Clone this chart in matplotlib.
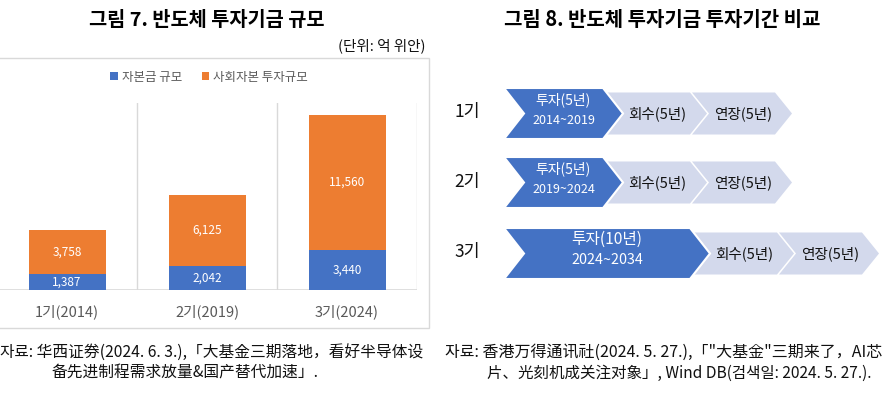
import matplotlib
matplotlib.use('Agg')
import matplotlib.pyplot as plt
from matplotlib.patches import Polygon, Rectangle

plt.rcParams['font.family'] = ['Noto Sans CJK KR', 'DejaVu Sans']

# ---- data: figure 7 (stacked bars) ----
categories = ['1기(2014)', '2기(2019)', '3기(2024)']
capital = [1387, 2042, 3440]
social = [3758, 6125, 11560]
series_names = ['자본금 규모', '사회자본 투자규모']

# ---- data: figure 8 (chevron timeline) ----
phases = ['1기', '2기', '3기']
invest_labels = ['투자(5년)', '투자(5년)', '투자(10년)']
invest_periods = ['2014~2019', '2019~2024', '2024~2034']
invest_years = [5, 5, 10]
recover_labels = ['회수(5년)', '회수(5년)', '회수(5년)']
extend_labels = ['연장(5년)', '연장(5년)', '연장(5년)']

title7 = '그림 7. 반도체 투자기금 규모'
title8 = '그림 8. 반도체 투자기금 투자기간 비교'
unit_text = '(단위: 억 위안)'
src7 = ['자료: 华西证券(2024. 6. 3.),「大基金三期落地，看好半导体设',
        '备先进制程需求放量&国产替代加速」.']
src8 = ['자료: 香港万得通讯社(2024. 5. 27.),「"大基金"三期来了，AI芯',
        '片、光刻机成关注对象」, Wind DB(검색일: 2024. 5. 27.).']

BLUE = '#4472C4'
ORANGE = '#ED7D31'
LIGHT = '#D3D9EC'
GRID = '#D9D9D9'

W, H = 885, 395
fig = plt.figure(figsize=(W / 100, H / 100), dpi=100)


def fx(px):
    return px / W


def fy(py):
    return 1 - py / H


# overlay axes in pixel coordinates
ov = fig.add_axes([0, 0, 1, 1], zorder=0)
ov.set_xlim(0, W)
ov.set_ylim(H, 0)
ov.axis('off')

# ---- bar chart ----
ylim_top = 16000
base_y = 290
px_per_unit = 175 / 15000
top_y = base_y - ylim_top * px_per_unit
ax = fig.add_axes([fx(-3), fy(base_y), 420 / W, (base_y - top_y) / H], zorder=1)
ax.patch.set_visible(False)
xs = list(range(len(categories)))
b1 = ax.bar(xs, capital, width=0.55, color=BLUE, zorder=3, label=series_names[0])
b2 = ax.bar(xs, social, bottom=capital, width=0.55, color=ORANGE, zorder=3,
            label=series_names[1])
for i, (c, s) in enumerate(zip(capital, social)):
    ax.text(i, c / 2, f'{c:,}', ha='center', va='center', color='white',
            fontsize=8.5, zorder=4)
    ax.text(i, c + s / 2, f'{s:,}', ha='center', va='center', color='white',
            fontsize=8.5, zorder=4)
ax.set_xlim(-0.5, len(categories) - 0.5)
ax.set_ylim(0, ylim_top)
for xv in [0.5, 1.5, 2.5]:
    ax.axvline(xv, color=GRID, lw=1, zorder=1)
ax.axhline(0, color=GRID, lw=1.2, zorder=2)
for sp in ax.spines.values():
    sp.set_visible(False)
ax.set_yticks([])
ax.set_xticks(xs)
ax.set_xticklabels(categories, color='#595959', fontsize=10.5)
ax.tick_params(axis='x', length=0, pad=10)

fig.legend(handles=[b1, b2], loc='center', bbox_to_anchor=(fx(209), fy(77)),
           ncol=2, frameon=False, fontsize=9, handlelength=0.6, handleheight=0.6,
           handletextpad=0.3, columnspacing=1.6, labelcolor='#595959')

# chart frame
ov.add_patch(Rectangle((-5, 58), 434, 270, fill=False, ec=GRID, lw=1))

# titles and texts
ov.text(207, 20, title7, ha='center', va='center', fontsize=14.2, fontweight='bold',
        color='black')
ov.text(662, 19, title8, ha='center', va='center', fontsize=14.4, fontweight='bold',
        color='black')
ov.text(425, 46, unit_text, ha='right', va='center', fontsize=10.5, color='#111111')

ov.text(0, 352, src7[0], ha='left', va='center', fontsize=11.3, color='#111111')
ov.text(52, 373, src7[1], ha='left', va='center', fontsize=11.3, color='#111111')
ov.text(445, 352, src8[0], ha='left', va='center', fontsize=11.5, color='#111111')
ov.text(487, 373, src8[1], ha='left', va='center', fontsize=11.2, color='#111111')


# ---- chevrons ----
def chevron(xl, xr, top, bot, d, fc, ec='none', lw=0, z=2):
    mid = (top + bot) / 2
    pts = [(xl, top), (xr, top), (xr + d, mid), (xr, bot), (xl, bot), (xl + d, mid)]
    ov.add_patch(Polygon(pts, closed=True, fc=fc, ec=ec, lw=lw, zorder=z,
                         joinstyle='miter'))


blue_tops = [88, 157, 228]
blue_h = 51
x_start = 504
for i in range(len(phases)):
    top = blue_tops[i]
    bot = top + blue_h
    mid = (top + bot) / 2
    xr = x_start + 12 + 17.4 * invest_years[i]
    d_b = 20
    g_top, g_bot = top + 4.5, bot - 4.5
    d_g = 17
    g1l = xr + 4
    g1r = g1l + 83
    g2l = g1r + 2
    g2r = g2l + 83
    chevron(g1l, g1r, g_top, g_bot, d_g, LIGHT, z=2)
    chevron(g2l, g2r, g_top, g_bot, d_g, LIGHT, z=2)
    chevron(x_start, xr, top, bot, d_b, BLUE, ec='white', lw=1.5, z=3)

    cx = (x_start + xr + d_b) / 2
    big = invest_years[i] >= 10
    ov.text(cx, top + 11.5, invest_labels[i], ha='center', va='center', color='white',
            fontsize=11.3 if big else 10, zorder=5)
    ov.text(cx, top + 32.5, invest_periods[i], ha='center', va='center', color='white',
            fontsize=10.3 if big else 9, zorder=5)
    ov.text(g1l + 50, mid, recover_labels[i], ha='center', va='center',
            color='#111111', fontsize=10.5, zorder=5)
    ov.text(g2l + 51, mid, extend_labels[i], ha='center', va='center',
            color='#111111', fontsize=10.5, zorder=5)
    ov.text(467, mid - 1, phases[i], ha='center', va='center', color='#111111',
            fontsize=12.5, zorder=5)

fig.savefig('out.png', dpi=100)
